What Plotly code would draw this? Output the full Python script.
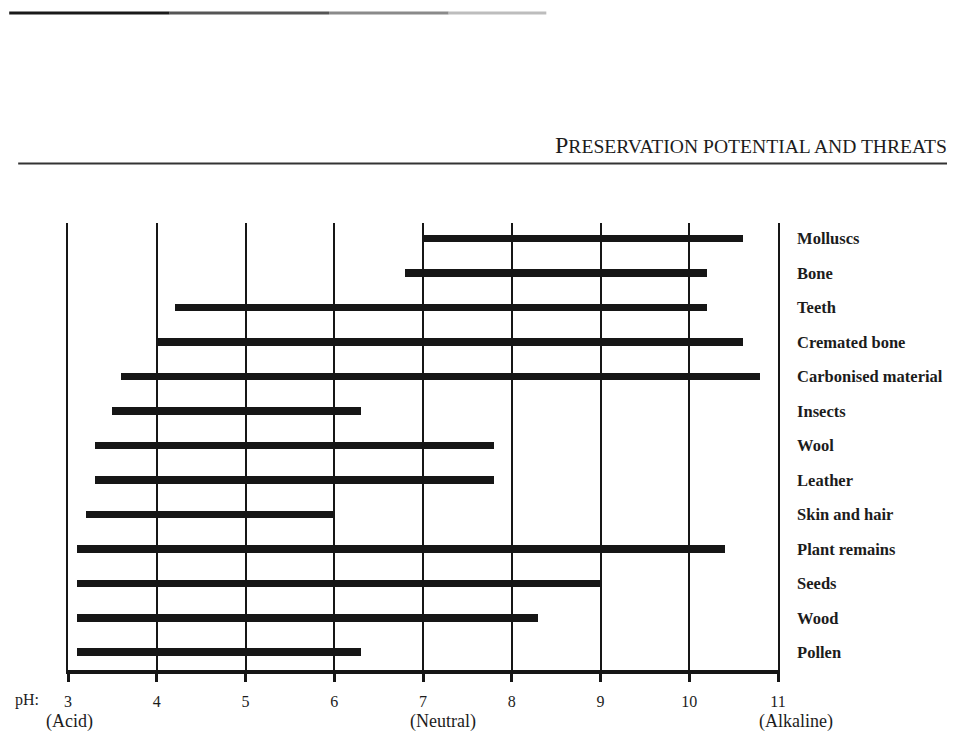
import plotly.graph_objects as go

# ---- data ----
materials = ["Molluscs", "Bone", "Teeth", "Cremated bone", "Carbonised material",
             "Insects", "Wool", "Leather", "Skin and hair", "Plant remains",
             "Seeds", "Wood", "Pollen"]
ph_min = [7.0, 6.8, 4.2, 4.0, 3.6, 3.5, 3.3, 3.3, 3.2, 3.1, 3.1, 3.1, 3.1]
ph_max = [10.6, 10.2, 10.2, 10.6, 10.8, 6.3, 7.8, 7.8, 6.0, 10.4, 9.0, 8.3, 6.3]
ph_ticks = [3, 4, 5, 6, 7, 8, 9, 10, 11]
ph_tick_labels = ["3", "4", "5", "6", "7", "8", "9", "10", "11"]
scale_notes = ["(Acid)", "(Neutral)", "(Alkaline)"]
header = "PRESERVATION POTENTIAL AND THREATS"

# page offset of the default HTML body margin
O = 8
W, H = 955 - O, 731 - O
L, R, T, B = 68, 780.5, 223, 670   # plot area in reference pixels
SERIF = "Liberation Serif, Times New Roman, serif"
INK = "#161616"
TXT = "#1c1c1c"


def px(xp):
    return (xp - L) / (R - L)


def py(yp):
    return (B - yp) / (B - T)


fig = go.Figure()
fig.add_trace(go.Bar(
    orientation="h",
    y=materials,
    x=[b - a for a, b in zip(ph_min, ph_max)],
    base=ph_min,
    width=0.22,
    marker=dict(color=INK, line=dict(width=0)),
    hoverinfo="skip",
))

annotations = []
# small-caps header
annotations.append(dict(
    xref="paper", yref="paper", x=px(952), y=py(145), xanchor="right", yanchor="middle",
    text="<span style='font-size:24px'>" + header[0] + "</span>" + header[1:],
    showarrow=False, font=dict(family=SERIF, size=19.6, color=TXT),
))
# "pH:" prefix
annotations.append(dict(
    xref="paper", yref="paper", x=px(13), y=py(700), xanchor="left", yanchor="middle",
    text="pH:", showarrow=False, font=dict(family=SERIF, size=16, color=TXT),
))
for xc, txt in zip([70, 444, 799], scale_notes):
    annotations.append(dict(
        xref="paper", yref="paper", x=px(xc), y=py(721), xanchor="center", yanchor="middle",
        text=txt, showarrow=False, font=dict(family=SERIF, size=18, color=TXT),
    ))

shapes = [
    dict(type="line", xref="paper", yref="paper", x0=px(18), x1=px(951),
         y0=py(163.5), y1=py(163.5), line=dict(color="#333", width=2)),
]
for x0, x1, col in [(9, 170, "#1a1a1a"), (170, 330, "#555"), (330, 450, "#8a8a8a"), (450, 548, "#bdbdbd")]:
    shapes.append(dict(type="line", xref="paper", yref="paper", x0=px(x0), x1=px(x1),
                       y0=py(13), y1=py(13), line=dict(color=col, width=3)))

fig.update_layout(
    width=W, height=H,
    margin=dict(l=L - O, r=W - (R - O), t=T - O, b=H - (B - O), pad=0),
    paper_bgcolor="white", plot_bgcolor="white",
    showlegend=False,
    bargap=0,
    annotations=annotations,
    shapes=shapes,
    xaxis=dict(
        range=[3, 11], tickvals=ph_ticks, ticktext=ph_tick_labels,
        showgrid=True, gridcolor=INK, gridwidth=1.6, zeroline=False,
        showline=True, linecolor=INK, linewidth=4,
        ticks="outside", ticklen=8, tickwidth=3, tickcolor=INK,
        ticklabelstandoff=6,
        tickfont=dict(family=SERIF, size=16, color=TXT),
        fixedrange=True,
    ),
    yaxis=dict(
        type="category", categoryorder="array", categoryarray=materials,
        range=[12.514, -0.455],
        side="right", showgrid=False, zeroline=False,
        showline=True, mirror=True, linecolor=INK, linewidth=1.6,
        ticks="", ticklabelstandoff=14,
        tickfont=dict(family=SERIF, size=16.5, color=TXT, weight="bold"),
        fixedrange=True,
    ),
)

fig.write_html("out.html")
